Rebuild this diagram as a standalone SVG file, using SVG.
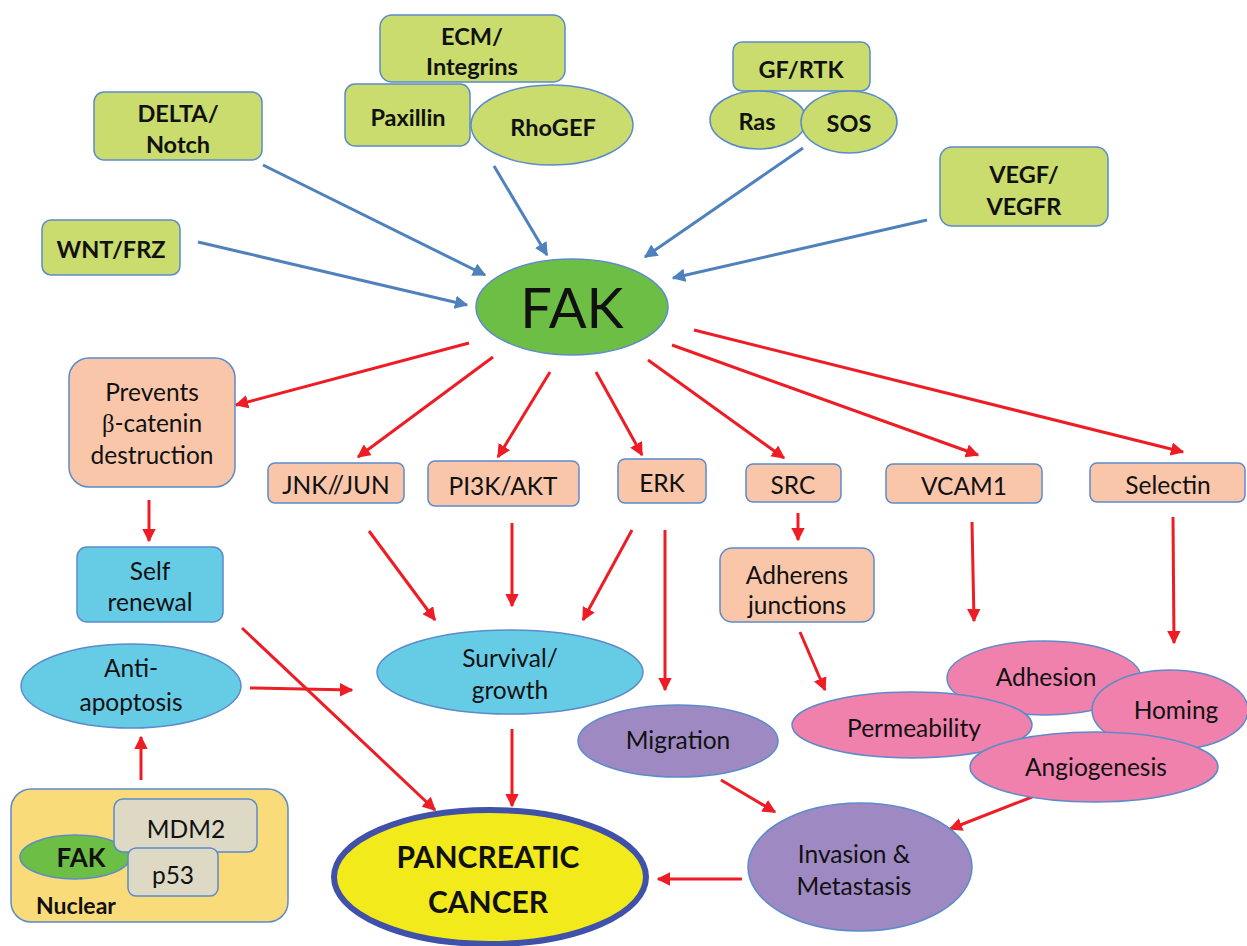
<svg xmlns="http://www.w3.org/2000/svg" width="1247" height="946" viewBox="0 0 1247 946">
<style>
text{font-family:Lato,"Open Sans","Liberation Sans",sans-serif;fill:#111;text-anchor:middle}
.b{font-weight:bold;font-size:23.5px}
.n{font-size:24.5px}
.g{fill:#C9DC6D;stroke:#5B8BCB;stroke-width:1.5}
.p{fill:#F9C6AA;stroke:#5B8BCB;stroke-width:1.5}
.c{fill:#66CCE6;stroke:#5B8BCB;stroke-width:1.5}
.k{fill:#F081AD;stroke:#5B8BCB;stroke-width:1.5}
.v{fill:#9E89C2;stroke:#5B8BCB;stroke-width:1.5}
.gr{fill:#DDD9C4;stroke:#5B8BCB;stroke-width:1.5}
.bl{stroke:#4F81BD;stroke-width:3;fill:none;marker-end:url(#ab)}
.rd{stroke:#EE1C24;stroke-width:3;fill:none;marker-end:url(#ar)}
</style>
<defs>
<marker id="ab" viewBox="0 0 10 10" refX="9" refY="5" markerWidth="4.5" markerHeight="4.5" orient="auto" markerUnits="strokeWidth"><path d="M0,0 L10,5 L0,10 z" fill="#4F81BD"/></marker>
<marker id="ar" viewBox="0 0 10 10" refX="9" refY="5" markerWidth="4.5" markerHeight="4.5" orient="auto" markerUnits="strokeWidth"><path d="M0,0 L10,5 L0,10 z" fill="#EE1C24"/></marker>
</defs>
<rect width="1247" height="946" fill="#fff"/>

<g id="connectors">
<line class="bl" x1="263" y1="165" x2="485" y2="275"/>
<line class="bl" x1="198" y1="242" x2="467" y2="305"/>
<line class="bl" x1="494" y1="166" x2="547" y2="255"/>
<line class="bl" x1="803" y1="148" x2="645" y2="257"/>
<line class="bl" x1="927" y1="220" x2="673" y2="278"/>
<line class="rd" x1="469" y1="343" x2="236" y2="405"/>
<line class="rd" x1="493" y1="357" x2="358" y2="457"/>
<line class="rd" x1="550" y1="372" x2="498" y2="457"/>
<line class="rd" x1="596" y1="372" x2="642" y2="455"/>
<line class="rd" x1="648" y1="360" x2="784" y2="458"/>
<line class="rd" x1="672" y1="345" x2="978" y2="455"/>
<line class="rd" x1="694" y1="330" x2="1183" y2="452"/>
<line class="rd" x1="149" y1="500" x2="149" y2="541"/>
<line class="rd" x1="369" y1="531" x2="435" y2="620"/>
<line class="rd" x1="512" y1="523" x2="512" y2="606"/>
<line class="rd" x1="632" y1="530" x2="583" y2="620"/>
<line class="rd" x1="665" y1="530" x2="665" y2="690"/>
<line class="rd" x1="798" y1="513" x2="798" y2="540"/>
<line class="rd" x1="800" y1="632" x2="825" y2="690"/>
<line class="rd" x1="972" y1="522" x2="974" y2="621"/>
<line class="rd" x1="1173" y1="517" x2="1174" y2="643"/>
<line class="rd" x1="242" y1="628" x2="435" y2="810"/>
<line class="rd" x1="250" y1="688" x2="352" y2="690"/>
<line class="rd" x1="141" y1="780" x2="141" y2="737"/>
<line class="rd" x1="512" y1="729" x2="512" y2="806"/>
<line class="rd" x1="721" y1="780" x2="775" y2="812"/>
<line class="rd" x1="1032" y1="797" x2="950" y2="829"/>
<line class="rd" x1="742" y1="879" x2="658" y2="879"/>
</g>

<g id="ecm"><rect class="g" x="380" y="15" width="185" height="67" rx="12"/><text class="b" x="472" y="45">ECM/</text><text class="b" x="472" y="75">Integrins</text></g>
<g id="paxillin"><rect class="g" x="345" y="84" width="125" height="62" rx="10"/><text class="b" x="408" y="126">Paxillin</text></g>
<g id="rhogef"><ellipse class="g" cx="552" cy="125" rx="81" ry="40"/><text class="b" x="553" y="136">RhoGEF</text></g>
<g id="delta"><rect class="g" x="94" y="92" width="168" height="68" rx="10"/><text class="b" x="178" y="122">DELTA/</text><text class="b" x="178" y="153">Notch</text></g>
<g id="wnt"><rect class="g" x="42" y="220" width="138" height="55" rx="9"/><text class="b" x="111" y="258">WNT/FRZ</text></g>
<g id="gfrtk"><rect class="g" x="733" y="42" width="137" height="49" rx="9"/><text class="b" x="801" y="78">GF/RTK</text></g>
<g id="ras"><ellipse class="g" cx="758" cy="120" rx="48" ry="29"/><text class="b" x="757" y="130">Ras</text></g>
<g id="sos"><ellipse class="g" cx="849" cy="122" rx="48" ry="31"/><text class="b" x="849" y="132">SOS</text></g>
<g id="vegf"><rect class="g" x="940" y="147" width="168" height="79" rx="12"/><text class="b" x="1024" y="183">VEGF/</text><text class="b" x="1024" y="215">VEGFR</text></g>
<g id="fak"><ellipse cx="572" cy="307" rx="96" ry="48" fill="#6DBE45" stroke="#5B8BCB" stroke-width="1.5"/><text x="572" y="328" style="font-size:56px">FAK</text></g>

<g id="prevents"><rect class="p" x="69" y="358" width="166" height="129" rx="20"/><text class="n" x="152" y="401">Prevents</text><text class="n" x="152" y="432"><tspan style="font-family:'Liberation Serif',serif">β</tspan>-catenin</text><text class="n" x="152" y="464">destruction</text></g>
<g id="jnk"><rect class="p" x="268" y="463" width="136" height="40" rx="7"/><text class="n" x="336" y="494">JNK//JUN</text></g>
<g id="pi3k"><rect class="p" x="428" y="461" width="151" height="45" rx="7"/><text class="n" x="503" y="495">PI3K/AKT</text></g>
<g id="erk"><rect class="p" x="618" y="459" width="88" height="44" rx="7"/><text class="n" x="662" y="492">ERK</text></g>
<g id="src"><rect class="p" x="746" y="464" width="95" height="38" rx="7"/><text class="n" x="793" y="494">SRC</text></g>
<g id="vcam1"><rect class="p" x="886" y="464" width="156" height="39" rx="7"/><text class="n" x="964" y="495">VCAM1</text></g>
<g id="selectin"><rect class="p" x="1090" y="463" width="155" height="39" rx="7"/><text class="n" x="1168" y="494">Selectin</text></g>

<g id="self"><rect class="c" x="77" y="547" width="146" height="75" rx="10"/><text class="n" x="150" y="580">Self</text><text class="n" x="150" y="611">renewal</text></g>
<g id="adherens"><rect class="p" x="720" y="548" width="154" height="74" rx="12"/><text class="n" x="797" y="584">Adherens</text><text class="n" x="797" y="614">junctions</text></g>
<g id="anti"><ellipse class="c" cx="131" cy="686" rx="110" ry="42"/><text class="n" x="131" y="677">Anti-</text><text class="n" x="131" y="711">apoptosis</text></g>
<g id="survival"><ellipse class="c" cx="510" cy="672" rx="133" ry="42"/><text class="n" x="510" y="667">Survival/</text><text class="n" x="510" y="699">growth</text></g>
<g id="migration"><ellipse class="v" cx="678" cy="741" rx="100" ry="36"/><text class="n" x="678" y="749">Migration</text></g>
<g id="adhesion"><ellipse class="k" cx="1044" cy="678" rx="97" ry="37"/><text class="n" x="1046" y="686">Adhesion</text></g>
<g id="homing"><ellipse class="k" cx="1170" cy="710" rx="78" ry="40"/><text class="n" x="1176" y="719">Homing</text></g>
<g id="permeability"><ellipse class="k" cx="912" cy="725" rx="120" ry="33"/><text class="n" x="914" y="737">Permeability</text></g>
<g id="angiogenesis"><ellipse class="k" cx="1094" cy="767" rx="124" ry="35"/><text class="n" x="1096" y="776">Angiogenesis</text></g>
<g id="invasion"><ellipse class="v" cx="860" cy="867" rx="112" ry="64"/><text class="n" x="854" y="863">Invasion &amp;</text><text class="n" x="854" y="895">Metastasis</text></g>
<g id="pancreatic"><ellipse cx="490" cy="877" rx="156" ry="67" fill="#F2EA1A" stroke="#3F51A8" stroke-width="6"/><text x="488" y="868" style="font-size:30px;font-weight:bold">PANCREATIC</text><text x="488" y="913" style="font-size:30px;font-weight:bold">CANCER</text></g>

<g id="nuclear"><rect x="11" y="789" width="277" height="133" rx="20" fill="#FADB7A" stroke="#5B8BCB" stroke-width="1.5"/>
<ellipse cx="75" cy="857" rx="55" ry="22" fill="#6DBE45" stroke="#5B8BCB" stroke-width="1.5"/><text x="81" y="867" style="font-size:26px;font-weight:bold">FAK</text>
<rect class="gr" x="114" y="799" width="143" height="53" rx="9"/><text class="n" x="186" y="838">MDM2</text>
<rect class="gr" x="128" y="848" width="90" height="48" rx="8"/><text class="n" x="173" y="884">p53</text>
<text x="76" y="914" style="font-size:23px;font-weight:bold">Nuclear</text></g>
</svg>
